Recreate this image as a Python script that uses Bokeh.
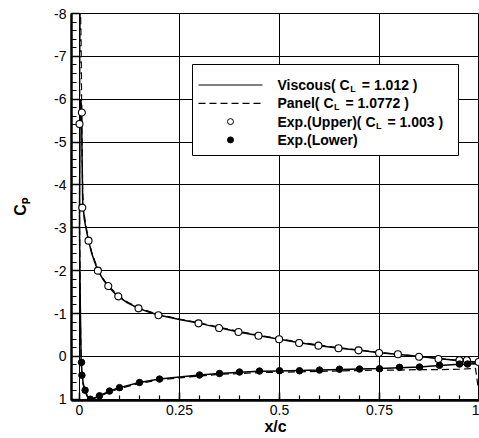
import numpy as np
from bokeh.plotting import figure
from bokeh.models import Range1d, FixedTicker, Label
from bokeh.embed import file_html
from bokeh.resources import INLINE

# ---------------- data ----------------
# Experiment, upper surface (open circles)
exp_up_x = [0.0, 0.006, 0.007, 0.0225, 0.046, 0.072, 0.097, 0.1475, 0.1975, 0.2975,
            0.349, 0.3975, 0.4475, 0.499, 0.549, 0.5975, 0.6475, 0.6975, 0.749, 0.796,
            0.849, 0.8975, 0.95, 0.9685, 0.998]
exp_up_cp = [-5.42, -5.69, -3.47, -2.70, -2.00, -1.64, -1.40, -1.12, -0.96, -0.77,
             -0.66, -0.57, -0.48, -0.40, -0.31, -0.25, -0.19, -0.14, -0.08, -0.05,
             0.01, 0.06, 0.09, 0.09, 0.13]

# Experiment, lower surface (filled circles)
exp_lo_x = [0.005, 0.006, 0.014, 0.027, 0.05, 0.075, 0.10, 0.15, 0.20, 0.30,
            0.35, 0.40, 0.45, 0.50, 0.55, 0.60, 0.65, 0.70, 0.75, 0.80,
            0.85, 0.90, 0.95, 0.97]
exp_lo_cp = [0.14, 0.44, 0.79, 1.00, 0.92, 0.81, 0.73, 0.61, 0.53, 0.435,
             0.40, 0.366, 0.343, 0.336, 0.336, 0.32, 0.30, 0.296, 0.29, 0.256,
             0.25, 0.21, 0.18, 0.18]

# Viscous solution (solid line)
visc_up_x = [0.0, 0.001, 0.0025, 0.005, 0.0065, 0.008, 0.012, 0.017, 0.0225, 0.03,
             0.038, 0.046, 0.06, 0.072, 0.085, 0.097, 0.12, 0.1475, 0.175, 0.2,
             0.25, 0.3, 0.35, 0.4, 0.45, 0.5, 0.55, 0.6, 0.65, 0.7,
             0.75, 0.8, 0.85, 0.9, 0.95, 1.0]
visc_up_cp = [-3.0, -5.2, -6.0, -5.85, -4.6, -3.6, -3.2, -2.95, -2.7, -2.42,
              -2.2, -2.0, -1.78, -1.63, -1.5, -1.4, -1.25, -1.12, -1.03, -0.96,
              -0.86, -0.77, -0.665, -0.565, -0.48, -0.40, -0.315, -0.25, -0.19, -0.14,
              -0.085, -0.045, 0.005, 0.055, 0.095, 0.14]
visc_lo_x = [0.0, 0.002, 0.004, 0.006, 0.009, 0.014, 0.02, 0.027, 0.035, 0.05,
             0.075, 0.1, 0.15, 0.2, 0.25, 0.3, 0.35, 0.4, 0.45, 0.5,
             0.55, 0.6, 0.65, 0.7, 0.75, 0.8, 0.85, 0.9, 0.95, 1.0]
visc_lo_cp = [-3.0, -1.2, 0.05, 0.35, 0.62, 0.80, 0.93, 0.99, 0.98, 0.92,
              0.81, 0.73, 0.61, 0.53, 0.48, 0.435, 0.40, 0.37, 0.35, 0.34,
              0.33, 0.32, 0.305, 0.295, 0.285, 0.265, 0.25, 0.215, 0.185, 0.17]

# Panel method (dashed line)
pan_up_x = [0.0, 0.001, 0.002, 0.004, 0.006, 0.008, 0.012, 0.017, 0.0225, 0.03,
            0.046, 0.06, 0.072, 0.097, 0.12, 0.15, 0.2,
            0.25, 0.3, 0.35, 0.4, 0.45, 0.5, 0.55, 0.6, 0.65, 0.7,
            0.75, 0.8, 0.85, 0.9, 0.95, 1.0]
pan_up_cp = [-3.5, -7.2, -8.4, -7.3, -5.2, -3.8, -3.3, -3.0, -2.75, -2.45,
             -2.02, -1.8, -1.65, -1.42, -1.27, -1.12, -0.97,
             -0.87, -0.78, -0.68, -0.58, -0.49, -0.41, -0.33, -0.26, -0.2, -0.145,
             -0.09, -0.045, 0.0, 0.05, 0.1, 0.18]
pan_lo_x = [0.0, 0.002, 0.004, 0.006, 0.009, 0.014, 0.02, 0.027, 0.035, 0.05,
            0.075, 0.1, 0.15, 0.2, 0.25, 0.3, 0.35, 0.4, 0.45, 0.5,
            0.55, 0.6, 0.65, 0.7, 0.75, 0.8, 0.85, 0.9, 0.95, 0.99, 1.0]
pan_lo_cp = [-3.5, -1.0, 0.1, 0.4, 0.66, 0.83, 0.95, 1.0, 0.99, 0.94,
             0.83, 0.75, 0.63, 0.55, 0.50, 0.46, 0.42, 0.40, 0.38, 0.37,
             0.36, 0.35, 0.34, 0.33, 0.32, 0.32, 0.31, 0.31, 0.30, 0.28, 0.95]

# Ticks
x_ticks = [0, 0.25, 0.5, 0.75, 1.0]
x_tick_labels = ["0", "0.25", "0.5", "0.75", "1"]
y_ticks = [-8, -7, -6, -5, -4, -3, -2, -1, 0, 1]
y_tick_labels = ["-8", "-7", "-6", "-5", "-4", "-3", "-2", "-1", "0", "1"]

# Axis titles
x_title = "x/c"
y_title = "C\u209a"   # C with subscript p

# Legend texts: (before subscript, subscript, after subscript)
legend_texts = [("Viscous( C", "L", "= 1.012 )"),
                ("Panel( C", "L", "= 1.0772 )"),
                ("Exp.(Upper)( C", "L", "= 1.003 )"),
                ("Exp.(Lower)", "", "")]

# ---------------- layout ----------------
W, H = 479, 438
BL, BT, BR, BB = 71, 13, 0, 38
X0, X1 = -0.02, 1.0
Y_BOT, Y_TOP = 1.03, -8.0
FW, FH = W - BL - BR, H - BT - BB
SX = FW / (X1 - X0)
SY = FH / (Y_BOT - Y_TOP)


def X(px):
    return X0 + (px - BL) / SX


def Y(py):
    return Y_TOP + (py - BT) / SY


FONT = "Liberation Sans"

p = figure(width=W, height=H, x_range=Range1d(X0, X1), y_range=Range1d(Y_BOT, Y_TOP),
           output_backend="svg", toolbar_location=None,
           min_border_left=BL, min_border_right=BR, min_border_top=BT, min_border_bottom=BB)
p.background_fill_color = "white"
p.border_fill_color = "white"
p.outline_line_color = "black"
p.outline_line_width = 1

# axes
x_minor = [round(v, 3) for v in np.arange(0.0, 1.0001, 0.05)]
y_minor = [round(v, 2) for v in np.arange(-8.0, 1.0001, 0.2)]
p.xaxis.ticker = FixedTicker(ticks=x_ticks, minor_ticks=x_minor)
p.yaxis.ticker = FixedTicker(ticks=y_ticks, minor_ticks=y_minor)
p.xaxis.major_label_overrides = dict(zip(x_ticks, x_tick_labels))
p.yaxis.major_label_overrides = dict(zip(y_ticks, y_tick_labels))
for ax in (p.xaxis, p.yaxis):
    ax.axis_line_width = 2.5
    ax.axis_line_color = "black"
    ax.major_tick_in = 8
    ax.major_tick_out = 0
    ax.minor_tick_in = 5
    ax.minor_tick_out = 0
    ax.major_tick_line_width = 1.5
    ax.minor_tick_line_width = 1.2
    ax.major_tick_line_color = "black"
    ax.minor_tick_line_color = "black"
    ax.major_label_text_font = FONT
    ax.major_label_text_font_size = "14px"
    ax.major_label_text_color = "black"
    ax.axis_label_text_font = FONT
    ax.axis_label_text_font_style = "bold"
    ax.axis_label_text_color = "black"

p.xaxis.major_label_standoff = 4
p.xaxis.axis_label = x_title
p.xaxis.axis_label_text_font_size = "16px"
p.xaxis.axis_label_standoff = 0

p.yaxis.major_label_standoff = 5
p.yaxis.axis_label = y_title
p.yaxis.axis_label_text_font_size = "16px"
p.yaxis.axis_label_standoff = 22

p.xgrid.ticker = FixedTicker(ticks=x_ticks)
p.ygrid.ticker = FixedTicker(ticks=y_ticks)
for g in (p.xgrid, p.ygrid):
    g.grid_line_color = "black"
    g.grid_line_width = 1
    g.grid_line_alpha = 1.0

# curves
p.line(visc_up_x, visc_up_cp, line_color="black", line_width=1.5)
p.line(visc_lo_x, visc_lo_cp, line_color="black", line_width=1.5)
p.line(pan_up_x, pan_up_cp, line_color="black", line_width=1.2, line_dash="7 4")
p.line(pan_lo_x, pan_lo_cp, line_color="black", line_width=1.2, line_dash="7 4")
p.scatter(exp_up_x, exp_up_cp, marker="circle", size=7, fill_color="white",
          line_color="black", line_width=1.1)
p.scatter(exp_lo_x, exp_lo_cp, marker="circle", size=6.5, fill_color="black",
          line_color="black", line_width=1)

# legend (drawn by hand so that C_L can have a subscript)
LG_L, LG_R, LG_T, LG_B = 192, 458, 64, 155
ROW0, ROW_DY = 84.5, 18.3
SAMP_L, SAMP_R, SAMP_M = 198, 262, 230
TXT_X = 277
p.quad(left=[X(LG_L)], right=[X(LG_R)], top=[Y(LG_T)], bottom=[Y(LG_B)],
       fill_color="white", line_color="black", line_width=1)
rows = [ROW0 + i * ROW_DY for i in range(4)]
p.segment(x0=[X(SAMP_L)], y0=[Y(rows[0])], x1=[X(SAMP_R)], y1=[Y(rows[0])],
          line_color="black", line_width=1.2)
p.segment(x0=[X(SAMP_L)], y0=[Y(rows[1])], x1=[X(SAMP_R)], y1=[Y(rows[1])],
          line_color="black", line_width=1.2, line_dash="7 4")
p.scatter([X(SAMP_M)], [Y(rows[2])], marker="circle", size=6, fill_color="white",
          line_color="black", line_width=1)
p.scatter([X(SAMP_M)], [Y(rows[3])], marker="circle", size=6, fill_color="black",
          line_color="black", line_width=1)

# approximate widths of bold Liberation Sans (per 1000 em)
BOLD_W = {"V": 667, "i": 278, "s": 556, "c": 556, "o": 611, "u": 611, "(": 333, ")": 333,
          " ": 278, "C": 722, "P": 667, "a": 556, "n": 611, "e": 556, "l": 278,
          "E": 667, "x": 556, "p": 611, ".": 278, "U": 722, "r": 389, "L": 611,
          "w": 778}


def text_w(s, size):
    return sum(BOLD_W.get(ch, 556) for ch in s) * size / 1000.0


MAIN_FS, SUB_FS = 14, 9
for (pre, sub, post), ry in zip(legend_texts, rows):
    p.add_layout(Label(x=X(TXT_X), y=Y(ry), text=pre, text_font=FONT,
                       text_font_size=f"{MAIN_FS}px", text_font_style="bold",
                       text_baseline="middle", text_align="left", text_color="black"))
    if sub:
        sx = TXT_X + text_w(pre, MAIN_FS) + 0.5
        p.add_layout(Label(x=X(sx), y=Y(ry + 4), text=sub, text_font=FONT,
                           text_font_size=f"{SUB_FS}px", text_font_style="bold",
                           text_baseline="middle", text_align="left", text_color="black"))
        px2 = sx + text_w(sub, SUB_FS) + 6
        p.add_layout(Label(x=X(px2), y=Y(ry), text=post, text_font=FONT,
                           text_font_size=f"{MAIN_FS}px", text_font_style="bold",
                           text_baseline="middle", text_align="left", text_color="black"))

open("out.html", "w").write(file_html(p, INLINE))
